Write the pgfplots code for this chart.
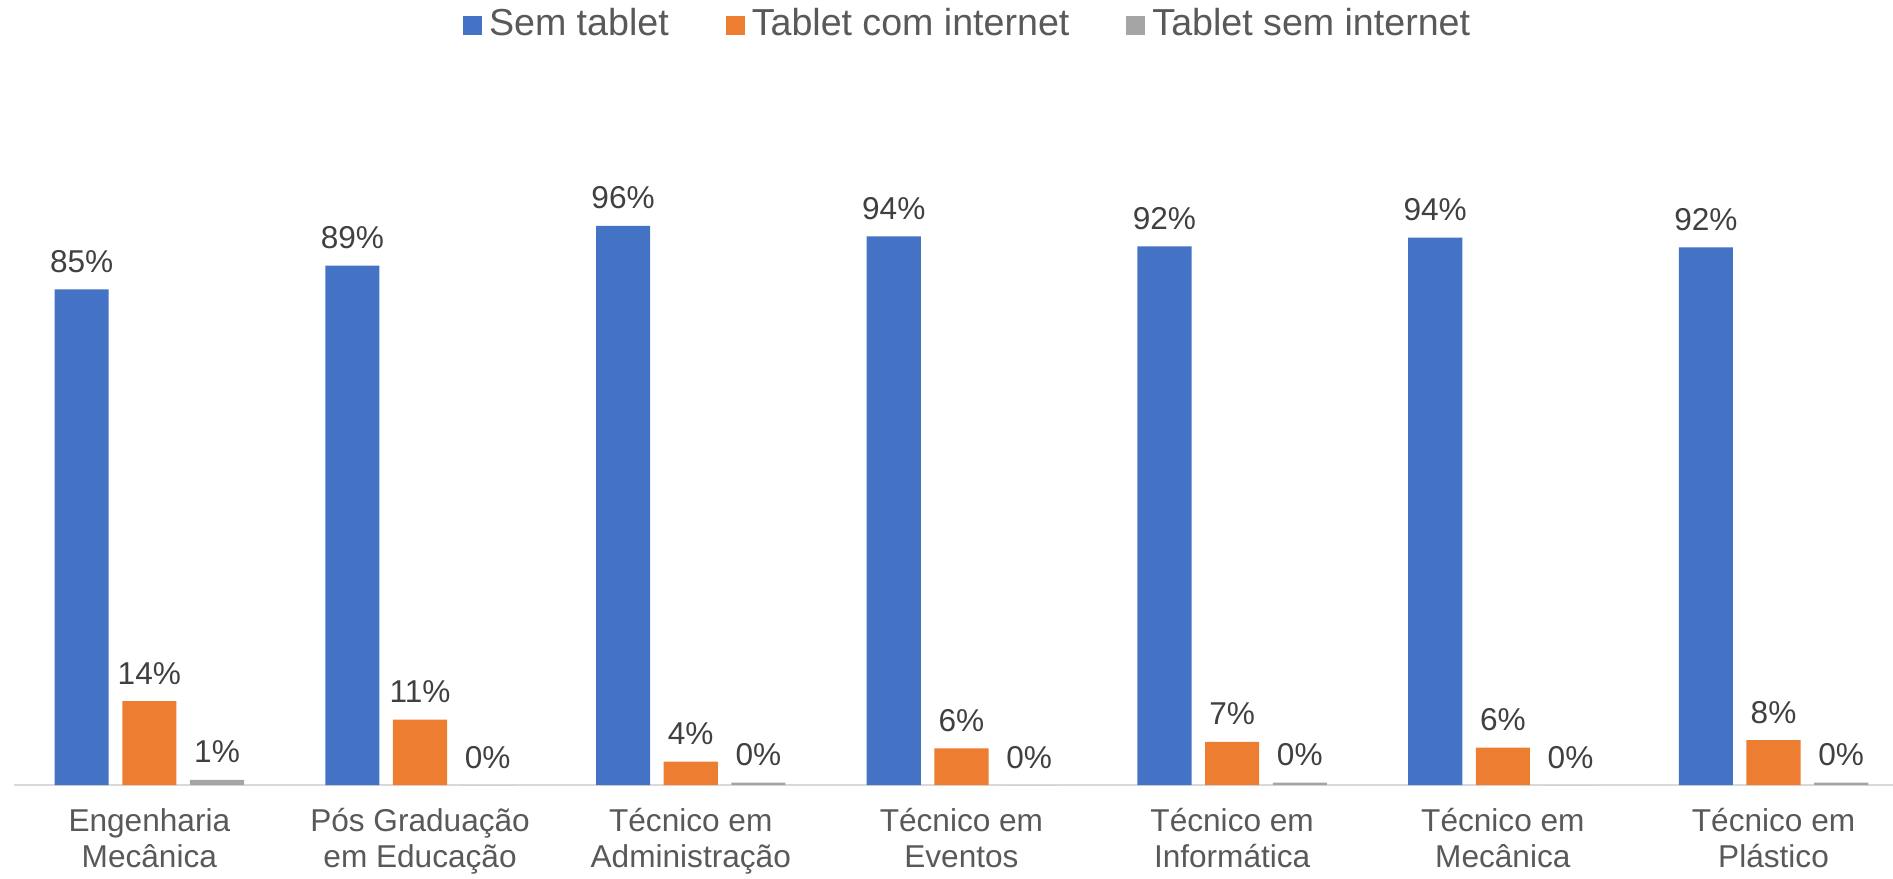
\documentclass[border=0pt]{standalone}
\usepackage{fontspec}
\setmainfont{Liberation Sans}
\usepackage{pgfplots}
\usepackage{pgfplotstable}
\pgfplotsset{compat=1.18}
\definecolor{cblue}{HTML}{4472C4}
\definecolor{corange}{HTML}{ED7D31}
\definecolor{cgray}{HTML}{A5A5A5}
\definecolor{axgray}{HTML}{D9D9D9}
\definecolor{labgray}{HTML}{595959}
\definecolor{datgray}{HTML}{404040}

% x = category index + bar offset (-0.25, 0, +0.25)
\pgfplotstableread{
x y lab
-0.25 85.0 85
0.75 89.1 89
1.75 95.9 96
2.75 94.1 94
3.75 92.4 92
4.75 93.9 94
5.75 92.2 92
}\semtab
\pgfplotstableread{
x y lab
0 14.4 14
1 11.2 11
2 4.0 4
3 6.3 6
4 7.4 7
5 6.4 6
6 7.7 8
}\comnet
\pgfplotstableread{
x y lab
0.25 0.9 1
1.25 0.0 0
2.25 0.4 0
3.25 0.0 0
4.25 0.4 0
5.25 0.0 0
6.25 0.4 0
}\semnet

\newcommand{\st}{\rule{0pt}{15pt}}

\begin{document}
\begin{tikzpicture}
\useasboundingbox (0,0) rectangle (946.5pt,439pt);
\begin{axis}[
  at={(7pt,46.5pt)}, anchor=south west,
  scale only axis,
  width=947.45pt, height=349.8pt,
  xmin=-0.5, xmax=6.5, ymin=0, ymax=120,
  clip=false,
  axis y line=none,
  axis x line*=bottom,
  x axis line style={draw=axgray, line width=0.8pt},
  ytick=\empty,
  xtick={0,1,2,3,4,5,6},
  xticklabels={{\st Engenharia\\Mecânica},{\st Pós Graduação\\em Educação},{\st Técnico em\\Administração},{\st Técnico em\\Eventos},{\st Técnico em\\Informática},{\st Técnico em\\Mecânica},{\st Técnico em\\Plástico}},
  xtick style={draw=none},
  major tick length=0pt,
  xticklabel style={align=center, anchor=north, inner sep=0pt, yshift=-8pt,
    font=\fontsize{15.8pt}{18.2pt}\selectfont, text=labgray},
  legend columns=-1,
  legend style={at={(0.5027,1.0885)}, anchor=center, draw=none, fill=none,
    font=\fontsize{18.8pt}{22pt}\selectfont, text=labgray,
    nodes={inner sep=0pt},
    /tikz/every odd column/.append style={column sep=3.5pt},
    /tikz/every even column/.append style={column sep=28.5pt}},
  every node near coord/.append style={anchor=base, inner sep=0pt, yshift=8.5pt,
    font=\fontsize{15.8pt}{18pt}\selectfont, text=datgray},
  nodes near coords={\pgfplotspointmeta\%},
  point meta=explicit symbolic,
]
\addplot[ybar, fill=cblue, draw=none, bar width=0.2, bar shift=0,
  legend image code/.code={\fill[cblue] (0pt,-5.55pt) rectangle (9.5pt,3.95pt);}]
  table[x=x, y=y, meta=lab]{\semtab};
\addlegendentry{Sem tablet}
\addplot[ybar, fill=corange, draw=none, bar width=0.2, bar shift=0,
  legend image code/.code={\fill[corange] (0pt,-5.55pt) rectangle (9.5pt,3.95pt);}]
  table[x=x, y=y, meta=lab]{\comnet};
\addlegendentry{Tablet com internet}
\addplot[ybar, fill=cgray, draw=none, bar width=0.2, bar shift=0,
  legend image code/.code={\fill[cgray] (0pt,-5.55pt) rectangle (9.5pt,3.95pt);}]
  table[x=x, y=y, meta=lab]{\semnet};
\addlegendentry{Tablet sem internet}
\end{axis}
\end{tikzpicture}
\end{document}
